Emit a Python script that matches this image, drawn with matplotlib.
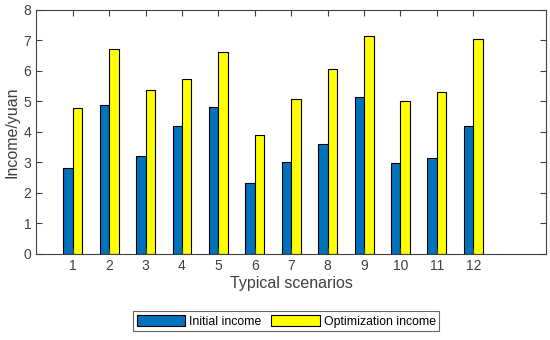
# Grouped bar chart: initial vs optimized income per typical scenario

import matplotlib.pyplot as plt
import numpy as np

plt.rcParams['font.family'] = ['Liberation Sans', 'DejaVu Sans']

scenarios = np.arange(1, 13)
initial_income = [2.83, 4.88, 3.22, 4.18, 4.82, 2.32, 3.02, 3.62, 5.16, 2.98, 3.16, 4.18]
optimization_income = [4.78, 6.71, 5.37, 5.72, 6.61, 3.89, 5.07, 6.07, 7.13, 5.02, 5.31, 7.06]

fig = plt.figure(figsize=(5.5, 3.4), dpi=100)
ax = fig.add_axes([0.066, 0.253, 0.927, 0.718])

w = 0.26
ax.bar(scenarios - w / 2, initial_income, w, color='#0072BD', edgecolor='black',
       linewidth=0.8, label='Initial income')
ax.bar(scenarios + w / 2, optimization_income, w, color='#FFFF00', edgecolor='black',
       linewidth=0.8, label='Optimization income')

ax.set_xlim(0, 14)
ax.set_ylim(0, 8)
ax.set_xticks(scenarios)
ax.set_yticks(range(0, 9))

grey = '#404040'
ax.tick_params(direction='in', top=True, right=True, colors=grey, labelsize=10,
               length=4, width=0.8)
for s in ax.spines.values():
    s.set_color(grey)
    s.set_linewidth(0.8)

ax.set_xlabel('Typical scenarios', fontsize=11.5, color=grey, labelpad=2)
ax.set_ylabel('Income/yuan', fontsize=11.5, color=grey, labelpad=3)

leg = ax.legend(loc='upper center', bbox_to_anchor=(0.49, -0.235), ncol=2,
                fontsize=8.8, frameon=True, fancybox=False, edgecolor=grey,
                handlelength=4, handleheight=1.0, handletextpad=0.3,
                columnspacing=0.8, borderpad=0.3, borderaxespad=0)
leg.get_frame().set_linewidth(0.8)

fig.savefig('out.png', dpi=100)
